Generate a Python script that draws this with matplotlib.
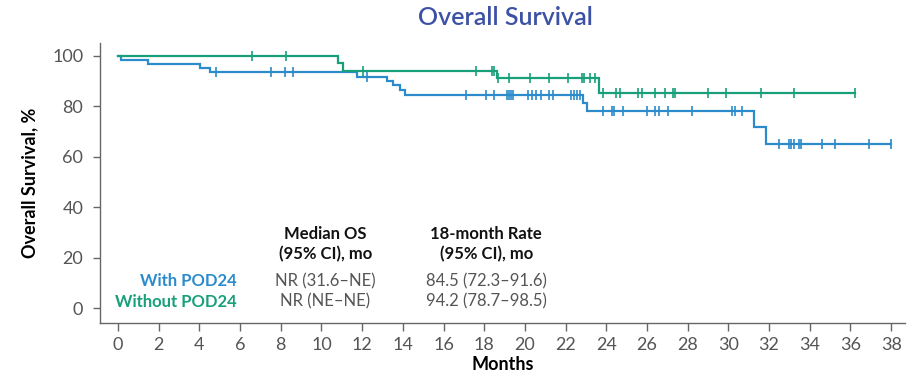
import numpy as np
import matplotlib
matplotlib.use("Agg")
import matplotlib.pyplot as plt

plt.rcParams['font.family'] = ['Lato', 'DejaVu Sans']

# Kaplan-Meier data: event months and survival (%) after each event
with_event_months = [0.13, 1.49, 4.03, 4.52, 11.77, 13.2, 13.5, 13.85, 14.1,
                     22.85, 23.05, 31.25, 31.85]
with_surv = [98.4, 96.8, 95.2, 93.5, 91.8, 90.1, 88.3, 86.5, 84.5,
             81.5, 78.2, 71.7, 65.2]
with_censor_months = [4.82, 7.5, 8.2, 8.6, 12.22, 17.1, 18.1, 18.5, 19.1, 19.2,
                      19.3, 19.4, 20.15, 20.35, 20.55, 20.8, 21.2, 21.4, 22.25,
                      22.4, 22.55, 22.7, 23.86, 24.3, 24.4, 24.8, 26.0, 26.4,
                      26.6, 27.05, 28.2, 30.2, 30.3, 30.65, 32.5, 33.0, 33.1,
                      33.2, 33.45, 33.55, 34.6, 35.25, 36.9, 38.0]

without_event_months = [10.8, 11.05, 18.65, 23.65]
without_surv = [97.0, 94.2, 91.2, 85.2]
without_censor_months = [6.57, 8.25, 12.06, 17.6, 18.4, 18.5, 18.7, 19.2, 20.25,
                         21.2, 22.1, 22.8, 22.9, 23.2, 23.45, 23.86, 24.5, 24.65,
                         25.55, 25.75, 26.4, 26.9, 27.3, 27.4, 29.0, 29.9, 31.6,
                         33.2, 36.2]

x_ticks = list(range(0, 39, 2))
y_ticks = [0, 20, 40, 60, 80, 100]

table_headers = ["Median OS\n(95% CI), mo", "18-month Rate\n(95% CI), mo"]
row_labels = ["With POD24", "Without POD24"]
median_os = ["NR (31.6–NE)", "NR (NE–NE)"]
rate_18m = ["84.5 (72.3–91.6)", "94.2 (78.7–98.5)"]

BLUE = "#2b8bcb"
GREEN = "#18a07a"
TITLE = "#3d52a4"
GREY = "#555555"


def km_curve(ax, event_t, surv, censor_t, color):
    last_t = max(max(event_t), max(censor_t))
    t = np.concatenate([[0.0], event_t, [last_t]])
    s = np.concatenate([[100.0], surv, [surv[-1]]])
    ax.step(t, s, where='post', color=color, lw=1.6, solid_joinstyle='miter')
    levels = np.concatenate([[100.0], surv])
    idx = np.searchsorted(np.asarray(event_t), np.asarray(censor_t), side='right')
    ax.plot(censor_t, levels[idx], ls='none', marker='|', ms=7, mew=1.2,
            color=color)


fig = plt.figure(figsize=(9.19, 3.75), dpi=100)
ax = fig.add_axes([0.1088, 0.1387, 0.8762, 0.7466])

km_curve(ax, with_event_months, with_surv, with_censor_months, BLUE)
km_curve(ax, without_event_months, without_surv, without_censor_months, GREEN)

ax.set_xlim(-0.885, 38.69)
ax.set_ylim(-5.8, 105.1)
ax.set_xticks(x_ticks)
ax.set_yticks(y_ticks)
ax.tick_params(axis='both', colors='#666666', labelcolor=GREY, labelsize=13,
               width=1.0)
ax.tick_params(axis='x', length=6, pad=4)
ax.tick_params(axis='y', length=5, pad=7)
for side in ('top', 'right'):
    ax.spines[side].set_visible(False)
for side in ('left', 'bottom'):
    ax.spines[side].set_color('#666666')
    ax.spines[side].set_linewidth(1.0)

ax.set_xlabel("Months", fontsize=13, fontweight='bold', labelpad=2)
ax.set_ylabel("Overall Survival, %", fontsize=13, fontweight='bold', labelpad=10)
fig.text(0.5495, 0.953, "Overall Survival", ha='center', va='center',
         fontsize=18, color=TITLE, fontweight='semibold')

# Summary table inside the plot area
col_x = [10.2, 18.1]
for cx, head in zip(col_x, table_headers):
    ax.text(cx, 25.5, head, ha='center', va='center', fontsize=12,
            fontweight='bold', color='#111111', linespacing=1.3)
row_y = [10.8, 2.6]
for ry, lab, color, m, r in zip(row_y, row_labels, [BLUE, GREEN], median_os, rate_18m):
    ax.text(5.83, ry, lab, ha='right', va='center', fontsize=12,
            fontweight='bold', color=color)
    ax.text(col_x[0], ry, m, ha='center', va='center', fontsize=12,
            color=GREY)
    ax.text(col_x[1], ry, r, ha='center', va='center', fontsize=12,
            color=GREY)

fig.savefig("out.png", dpi=100)
